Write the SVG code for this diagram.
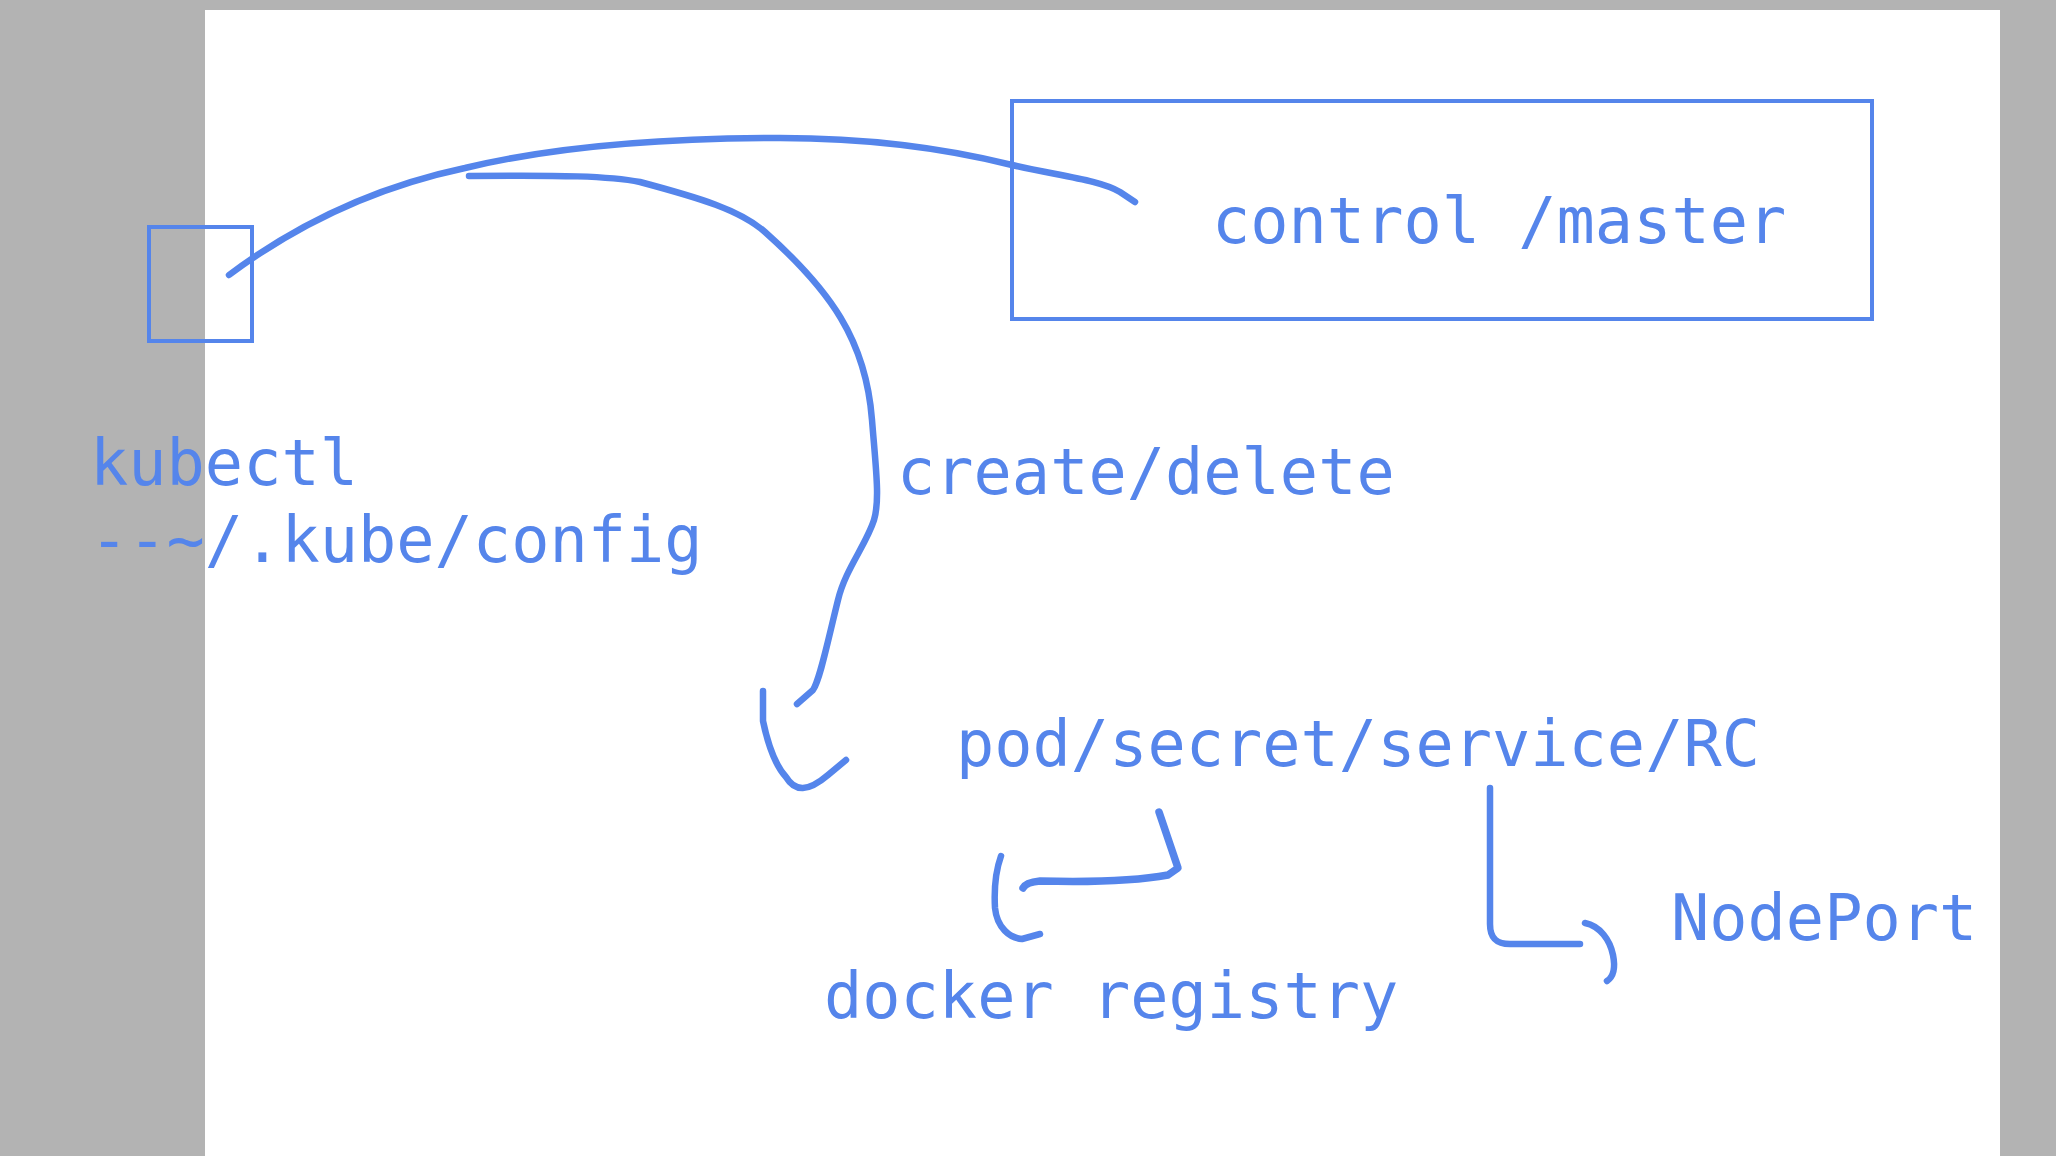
<svg xmlns="http://www.w3.org/2000/svg" width="2056" height="1156" viewBox="0 0 2056 1156">
<style>
.t{font-family:"DejaVu Sans Mono","Liberation Mono",monospace;font-size:63.6px;fill:#5585eb}
.box{fill:none;stroke:#5585eb;stroke-width:4}
.ln{fill:none;stroke:#5585eb;stroke-width:6.5;stroke-linecap:round;stroke-linejoin:round}
</style>
<rect x="0" y="0" width="2056" height="1156" fill="#b3b3b3"/>
<rect x="205" y="10" width="1795" height="1146" fill="#ffffff"/>
<g id="kubectl">
<rect class="box" x="149" y="227" width="103" height="114"/>
<text class="t" x="90" y="485">kubectl</text>
<text class="t" x="90" y="562">--~/.kube/config</text>
</g>
<g id="master">
<rect class="box" x="1012" y="101" width="860" height="218"/>
<text class="t" x="1212" y="243">control /master</text>
</g>
<g id="create-delete">
<text class="t" x="897" y="494">create/delete</text>
</g>
<g id="objects">
<text class="t" x="956" y="766">pod/secret/service/RC</text>
</g>
<g id="docker-registry">
<text class="t" x="824" y="1018">docker registry</text>
</g>
<g id="nodeport">
<text class="t" x="1671" y="940">NodePort</text>
</g>
<g id="connectors">
<path class="ln" d="M229,275 C300,222 380,186 465,168 C540,150 640,138 780,138 C880,138 960,152 1012,165 C1060,176 1100,180 1120,192 L1135,202"/>
<path class="ln" d="M469,176 C560,175 610,176 640,182 C700,198 740,210 765,232 C830,290 866,340 872,420 C876,470 880,500 874,520 C866,545 845,570 838,600 C828,640 820,680 813,690 L797,704"/>
<path class="ln" d="M763,691 L763,721 C768,745 775,765 786,777 C795,792 808,792 828,775 L846,760"/>
<path class="ln" d="M1159,812 L1178,868 L1168,875 C1130,882 1080,882 1040,881 C1030,882 1025,884 1023,888" style="stroke-width:7.5"/>
<path class="ln" d="M1001,856 C996,870 994,890 995,908 C997,928 1010,938 1022,939 L1040,934"/>
<path class="ln" d="M1490,788 L1490,924 C1490,940 1498,944 1510,944 L1580,944"/>
<path class="ln" d="M1585,923 C1600,926 1610,940 1613,955 C1616,970 1613,977 1607,981"/>
</g>
</svg>
